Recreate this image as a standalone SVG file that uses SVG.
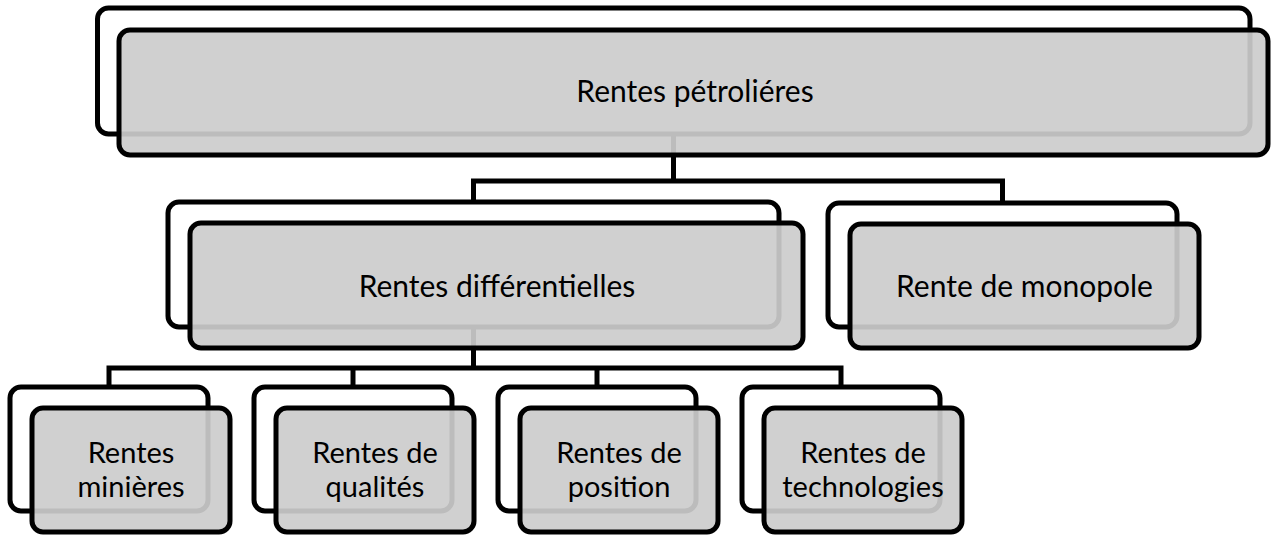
<svg xmlns="http://www.w3.org/2000/svg" width="1275" height="536" viewBox="0 0 1275 536">
<style>
.back{fill:#ffffff;stroke:#000;stroke-width:5}
.front{fill:#cccccc;fill-opacity:0.92;stroke:#000;stroke-width:5}
.conn{fill:none;stroke:#000;stroke-width:5;stroke-linejoin:miter}
.t{font-family:Lato,"Open Sans","Liberation Sans",sans-serif;fill:#000;text-anchor:middle}
.big{font-size:30px}
.small{font-size:29px}
</style>
<rect width="1275" height="536" fill="#fff"/>
<g id="connectors">
<path class="conn" d="M673.5 134 V181"/>
<path class="conn" d="M473.5 203 V181 H1002.5 V204"/>
<path class="conn" d="M473.5 327 V368"/>
<path class="conn" d="M109 387 V368 H841 V387"/>
<path class="conn" d="M353 368 V387"/>
<path class="conn" d="M597 368 V387"/>
</g>
<g id="n-petrolieres">
<rect class="back" x="97.5" y="8" width="1152.5" height="126" rx="11"/>
<rect class="front" x="119" y="30" width="1149" height="125" rx="11"/>
<text class="t big" x="695" y="102">Rentes pétroliéres</text>
</g>
<g id="n-differentielles">
<rect class="back" x="168" y="202" width="611" height="125" rx="11"/>
<rect class="front" x="190" y="223" width="613" height="125" rx="11"/>
<text class="t big" x="497" y="297">Rentes différentielles</text>
</g>
<g id="n-monopole">
<rect class="back" x="828" y="203" width="349" height="124" rx="11"/>
<rect class="front" x="850" y="224" width="349" height="124" rx="11"/>
<text class="t big" x="1024.5" y="297">Rente de monopole</text>
</g>
<g id="n-minieres">
<rect class="back" x="10" y="387" width="198" height="124" rx="11"/>
<rect class="front" x="32" y="408" width="198" height="124" rx="11"/>
<text class="t small" x="131" y="463">Rentes</text>
<text class="t small" x="131" y="497">minières</text>
</g>
<g id="n-qualites">
<rect class="back" x="254" y="387" width="198" height="124" rx="11"/>
<rect class="front" x="276" y="408" width="198" height="124" rx="11"/>
<text class="t small" x="375" y="463">Rentes de</text>
<text class="t small" x="375" y="497">qualités</text>
</g>
<g id="n-position">
<rect class="back" x="498" y="387" width="198" height="124" rx="11"/>
<rect class="front" x="520" y="408" width="198" height="124" rx="11"/>
<text class="t small" x="619" y="463">Rentes de</text>
<text class="t small" x="619" y="497">position</text>
</g>
<g id="n-technologies">
<rect class="back" x="742" y="387" width="198" height="124" rx="11"/>
<rect class="front" x="764" y="408" width="198" height="124" rx="11"/>
<text class="t small" x="863" y="463">Rentes de</text>
<text class="t small" x="863" y="497">technologies</text>
</g>
</svg>
